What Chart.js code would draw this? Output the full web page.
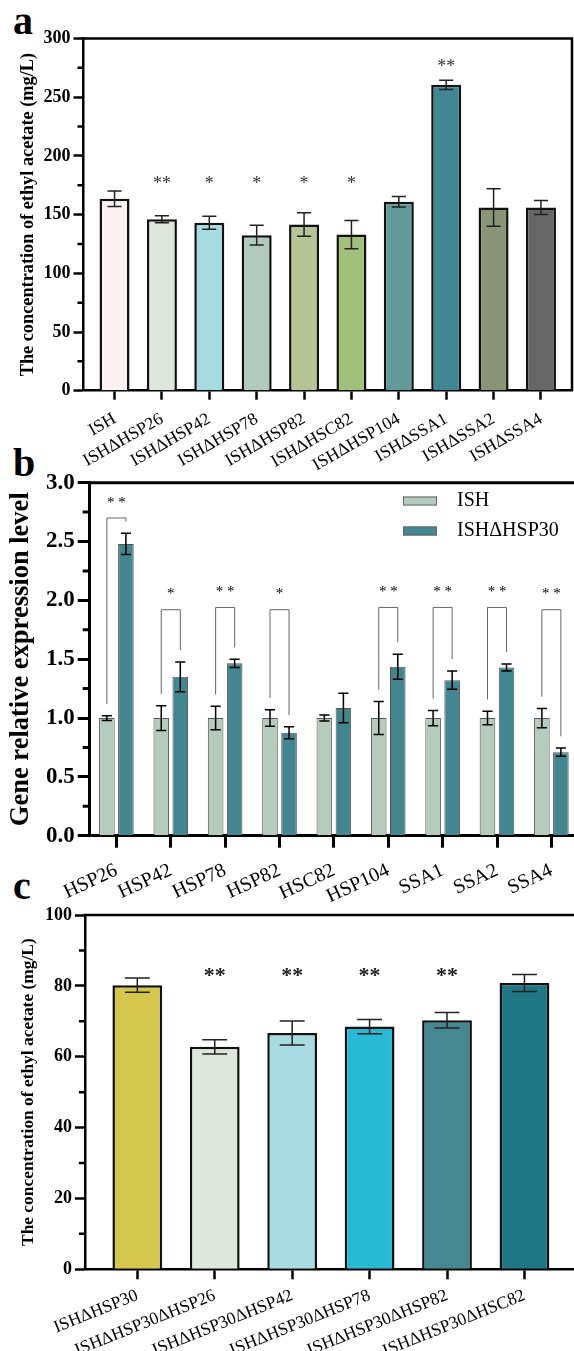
<!DOCTYPE html>
<html>
<head>
<meta charset="utf-8">
<script src="https://cdn.jsdelivr.net/npm/chart.js@4.4.1/dist/chart.umd.min.js"></script>
<style>
  body { margin: 0; background: #fff; width: 574px; height: 1351px; position: relative; overflow: hidden; }
  canvas { position: absolute; left: 0; }
  .tag { position: absolute; left: 13px; font: bold 40px/40px "Liberation Serif", serif; color: #000; }
</style>
</head>
<body>
<div class="tag" style="top:1px">a</div>
<div class="tag" style="top:443px">b</div>
<div class="tag" style="top:866px">c</div>
<canvas id="chartA" width="574" height="470" style="top:0"></canvas>
<canvas id="chartB" width="574" height="470" style="top:440px"></canvas>
<canvas id="chartC" width="574" height="461" style="top:890px"></canvas>
<script>
// panel a
const labelsA = ['ISH', 'ISHΔHSP26', 'ISHΔHSP42', 'ISHΔHSP78', 'ISHΔHSP82', 'ISHΔHSC82', 'ISHΔHSP104', 'ISHΔSSA1', 'ISHΔSSA2', 'ISHΔSSA4']
const meanA = [163.5, 146, 143, 132.5, 141.5, 133, 161, 260.5, 156, 156]
const errA = [6.5, 3, 5.5, 8.5, 10, 12, 4.5, 4, 16, 6]
const colorsA = ['#fdf2f3', '#dfe7dc', '#a7dbe0', '#b2c9bd', '#b6c497', '#a0c07c', '#64999a', '#438693', '#8a9476', '#666666']
const starsA = ['', '**', '*', '*', '*', '*', '', '**', '', '']
const starLevelA = [null, 180, 180, 180, 180, 180, null, 280, null, null]

// panel b
const genesB = ['HSP26', 'HSP42', 'HSP78', 'HSP82', 'HSC82', 'HSP104', 'SSA1', 'SSA2', 'SSA4']
const ishB = [1, 1, 1, 1, 1, 1, 1, 1, 1]
const ishErrB = [0.02, 0.105, 0.1, 0.07, 0.025, 0.14, 0.065, 0.057, 0.082]
const hsp30B = [2.48, 1.35, 1.465, 0.875, 1.085, 1.436, 1.322, 1.43, 0.71]
const hsp30ErrB = [0.09, 0.127, 0.035, 0.05, 0.125, 0.107, 0.078, 0.03, 0.035]
const bracketB = [2.70, 1.92, 1.94, 1.92, null, 1.94, 1.94, 1.94, 1.92]
const starsB = ['* *', '*', '* *', '*', '', '* *', '* *', '* *', '* *']

// panel c
const labelsC = ['ISHΔHSP30', 'ISHΔHSP30ΔHSP26', 'ISHΔHSP30ΔHSP42', 'ISHΔHSP30ΔHSP78', 'ISHΔHSP30ΔHSP82', 'ISHΔHSP30ΔHSC82']
const meanC = [80.2, 62.8, 66.7, 68.5, 70.3, 80.8]
const errC = [2, 2, 3.4, 2, 2.2, 2.4]
const colorsC = ['#d5c74e', '#dfe7dc', '#a8dce0', '#29b9d5', '#468892', '#1f7783']
const starsC = ['', '**', '**', '**', '**', '']
const starLevelC = [null, 84.5, 84.5, 84.5, 84.5, null]

Chart.defaults.font.family = '"Liberation Serif", "Times New Roman", serif'
Chart.defaults.color = '#000'
Chart.defaults.animation = false

const points = arr => arr.map((v, i) => ({x: i, y: v}))

// I-shaped error bars on top of every bar
const errorBars = {
  id: 'errorBars',
  afterDatasetsDraw(chart, args, o) {
    const ctx = chart.ctx
    const y = chart.scales.y
    chart.data.datasets.forEach((ds, di) => {
      const meta = chart.getDatasetMeta(di)
      ctx.save()
      ctx.strokeStyle = o.color
      ctx.lineWidth = o.width
      meta.data.forEach((bar, i) => {
        const v = ds.data[i].y, e = ds.errors[i]
        const top = y.getPixelForValue(v + e), bot = y.getPixelForValue(v - e)
        const half = bar.width * o.cap / 2
        ctx.beginPath()
        ctx.moveTo(bar.x, top); ctx.lineTo(bar.x, bot)
        ctx.moveTo(bar.x - half, top); ctx.lineTo(bar.x + half, top)
        ctx.moveTo(bar.x - half, bot); ctx.lineTo(bar.x + half, bot)
        ctx.stroke()
      })
      ctx.restore()
    })
  }
}

// top (and right) frame line plus the short minor ticks of the y axis
const frame = {
  id: 'frame',
  afterDraw(chart, args, o) {
    const ctx = chart.ctx, a = chart.chartArea, y = chart.scales.y
    ctx.save()
    ctx.strokeStyle = '#000'
    ctx.lineWidth = o.width
    ctx.beginPath()
    ctx.moveTo(a.left - o.width / 2, a.top)
    ctx.lineTo(a.right, a.top)
    if (o.right) ctx.lineTo(a.right, a.bottom)
    for (let v = y.min + o.minor; v < y.max; v += o.minor * 2) {
      const p = y.getPixelForValue(v)
      ctx.moveTo(a.left, p)
      ctx.lineTo(a.left - o.minorLen, p)
    }
    ctx.stroke()
    ctx.restore()
  }
}

// significance stars above single bars
const stars = {
  id: 'stars',
  afterDatasetsDraw(chart, args, o) {
    if (!o.marks) return
    const ctx = chart.ctx, y = chart.scales.y
    const meta = chart.getDatasetMeta(0)
    ctx.save()
    ctx.fillStyle = o.color
    ctx.font = o.font
    ctx.textAlign = 'center'
    ctx.textBaseline = 'top'
    o.marks.forEach((m, i) => {
      if (!m) return
      ctx.fillText(m, meta.data[i].x, y.getPixelForValue(o.levels[i]) - o.lift)
    })
    ctx.restore()
  }
}

// brackets + stars between the two bars of panel b
const brackets = {
  id: 'brackets',
  afterDatasetsDraw(chart, args, o) {
    if (!o.tops) return
    const ctx = chart.ctx, y = chart.scales.y
    const m0 = chart.getDatasetMeta(0), m1 = chart.getDatasetMeta(1)
    const d0 = chart.data.datasets[0], d1 = chart.data.datasets[1]
    ctx.save()
    ctx.strokeStyle = o.color
    ctx.lineWidth = 1
    ctx.fillStyle = '#000'
    ctx.font = o.font
    ctx.textAlign = 'center'
    ctx.textBaseline = 'middle'
    o.tops.forEach((top, i) => {
      if (top == null) return
      const x0 = m0.data[i].x, x1 = m1.data[i].x
      const yTop = y.getPixelForValue(top)
      const y0 = y.getPixelForValue(d0.data[i].y + d0.errors[i] + o.gap)
      const y1 = y.getPixelForValue(d1.data[i].y + d1.errors[i] + o.gap)
      ctx.beginPath()
      ctx.moveTo(x0, y0); ctx.lineTo(x0, yTop); ctx.lineTo(x1, yTop); ctx.lineTo(x1, y1)
      ctx.stroke()
      ctx.fillText(o.marks[i], (x0 + x1) / 2, y.getPixelForValue(top + o.lift))
    })
    ctx.restore()
  }
}

// small box legend drawn inside panel b
const boxLegend = {
  id: 'boxLegend',
  afterDraw(chart, args, o) {
    if (!o.show) return
    const ctx = chart.ctx
    ctx.save()
    ctx.font = o.font
    ctx.textBaseline = 'middle'
    chart.data.datasets.forEach((ds, i) => {
      const y = o.y + i * o.gap
      ctx.fillStyle = ds.backgroundColor
      ctx.fillRect(o.x, y - o.h / 2, o.w, o.h)
      ctx.strokeStyle = '#666'
      ctx.lineWidth = 1
      ctx.strokeRect(o.x + 0.5, y - o.h / 2 + 0.5, o.w - 1, o.h - 1)
      ctx.fillStyle = '#000'
      ctx.fillText(ds.label, o.x + o.w + o.textGap, y)
    })
    ctx.restore()
  }
}

function xAxis(labels, min, max, rot, size, tick, width, height, pad) {
  return {
    type: 'linear', min: min, max: max, offset: false,
    afterBuildTicks: s => { s.ticks = labels.map((_, i) => ({value: i})) },
    afterFit: s => { s.height = height },
    ticks: {autoSkip: false, minRotation: rot, maxRotation: rot, padding: pad,
      font: {size: size}, color: '#000', callback: v => labels[v]},
    grid: {offset: false, drawOnChartArea: false, tickLength: tick, tickWidth: width, tickColor: '#000'},
    border: {color: '#000', width: width}
  }
}

function yAxis(max, step, size, tick, width, axisW, title, titleSize, titlePad, fmt) {
  return {
    min: 0, max: max,
    afterFit: s => { s.width = axisW },
    ticks: {stepSize: step, padding: 3, font: {size: size, weight: 'bold'}, color: '#000',
      callback: v => fmt ? v.toFixed(1) : v},
    grid: {drawOnChartArea: false, tickLength: tick, tickWidth: width, tickColor: '#000'},
    border: {color: '#000', width: width},
    title: {display: true, text: title, color: '#000', padding: {top: titlePad, bottom: 0},
      font: {size: titleSize, weight: 'bold'}}
  }
}

new Chart(document.getElementById('chartA'), {
  type: 'bar',
  data: {
    datasets: [{
      data: points(meanA), errors: errA,
      backgroundColor: colorsA, borderColor: '#111', borderWidth: 2.5,
      categoryPercentage: 1, barPercentage: 0.633
    }]
  },
  options: {
    responsive: false,
    layout: {padding: {top: 38.5, right: 2, left: 0, bottom: 0}},
    scales: {
      x: xAxis(labelsA, -0.655, 9.655, 30, 17.5, 9, 2.5, 79.3, 9),
      y: yAxis(300, 50, 18, 10, 2.5, 83.5, 'The concentration of ethyl acetate (mg/L)', 18.3, 17, false)
    },
    plugins: {
      legend: {display: false}, tooltip: {enabled: false},
      errorBars: {color: '#222', width: 1.5, cap: 0.47},
      frame: {width: 2.5, right: true, minor: 25, minorLen: 6},
      stars: {marks: starsA, levels: starLevelA, font: '18px "Liberation Serif"', color: '#333', lift: 4},
      brackets: {}, boxLegend: {}
    }
  },
  plugins: [errorBars, frame, stars, brackets, boxLegend]
})

new Chart(document.getElementById('chartB'), {
  type: 'bar',
  data: {
    datasets: [{
      label: 'ISH', data: points(ishB), errors: ishErrB,
      backgroundColor: '#b4cbbd', borderColor: '#555', borderWidth: 1,
      categoryPercentage: 0.7, barPercentage: 0.82
    }, {
      label: 'ISHΔHSP30', data: points(hsp30B), errors: hsp30ErrB,
      backgroundColor: '#438690', borderColor: '#555', borderWidth: 1,
      categoryPercentage: 0.7, barPercentage: 0.82
    }]
  },
  options: {
    responsive: false,
    layout: {padding: {top: 42.7, right: 0, left: 0, bottom: 0}},
    scales: {
      x: xAxis(genesB, -0.491, 8.416, 25, 20, 12, 3, 74.3, 11),
      y: yAxis(3, 0.5, 23, 12, 3, 89.7, 'Gene relative expression level', 26.5, 5, true)
    },
    plugins: {
      legend: {display: false}, tooltip: {enabled: false},
      errorBars: {color: '#000', width: 1.5, cap: 0.65},
      frame: {width: 3, right: false, minor: 0.25, minorLen: 7},
      stars: {},
      brackets: {tops: bracketB, marks: starsB, gap: 0.1, lift: 0.13, color: '#666', font: '15px "Liberation Serif"'},
      boxLegend: {show: true, x: 403, y: 61, gap: 30, w: 34, h: 9, textGap: 20, font: '20px "Liberation Serif"'}
    }
  },
  plugins: [errorBars, frame, stars, brackets, boxLegend]
})

new Chart(document.getElementById('chartC'), {
  type: 'bar',
  data: {
    datasets: [{
      data: points(meanC), errors: errC,
      backgroundColor: colorsC, borderColor: '#111', borderWidth: 2.5,
      categoryPercentage: 1, barPercentage: 0.643
    }]
  },
  options: {
    responsive: false,
    layout: {padding: {top: 25, right: 0, left: 0, bottom: 0}},
    scales: {
      x: xAxis(labelsC, -0.677, 5.64, 22, 17.5, 10, 2.5, 81.7, 6),
      y: yAxis(100, 20, 18, 10, 2.5, 84.9, 'The concentration of ethyl acetate (mg/L)', 17.4, 18, false)
    },
    plugins: {
      legend: {display: false}, tooltip: {enabled: false},
      errorBars: {color: '#222', width: 1.5, cap: 0.5},
      frame: {width: 2.5, right: false, minor: 10, minorLen: 6},
      stars: {marks: starsC, levels: starLevelC, font: 'bold 22px "Liberation Serif"', color: '#222', lift: 5},
      brackets: {}, boxLegend: {}
    }
  },
  plugins: [errorBars, frame, stars, brackets, boxLegend]
})
</script>
</body>
</html>
